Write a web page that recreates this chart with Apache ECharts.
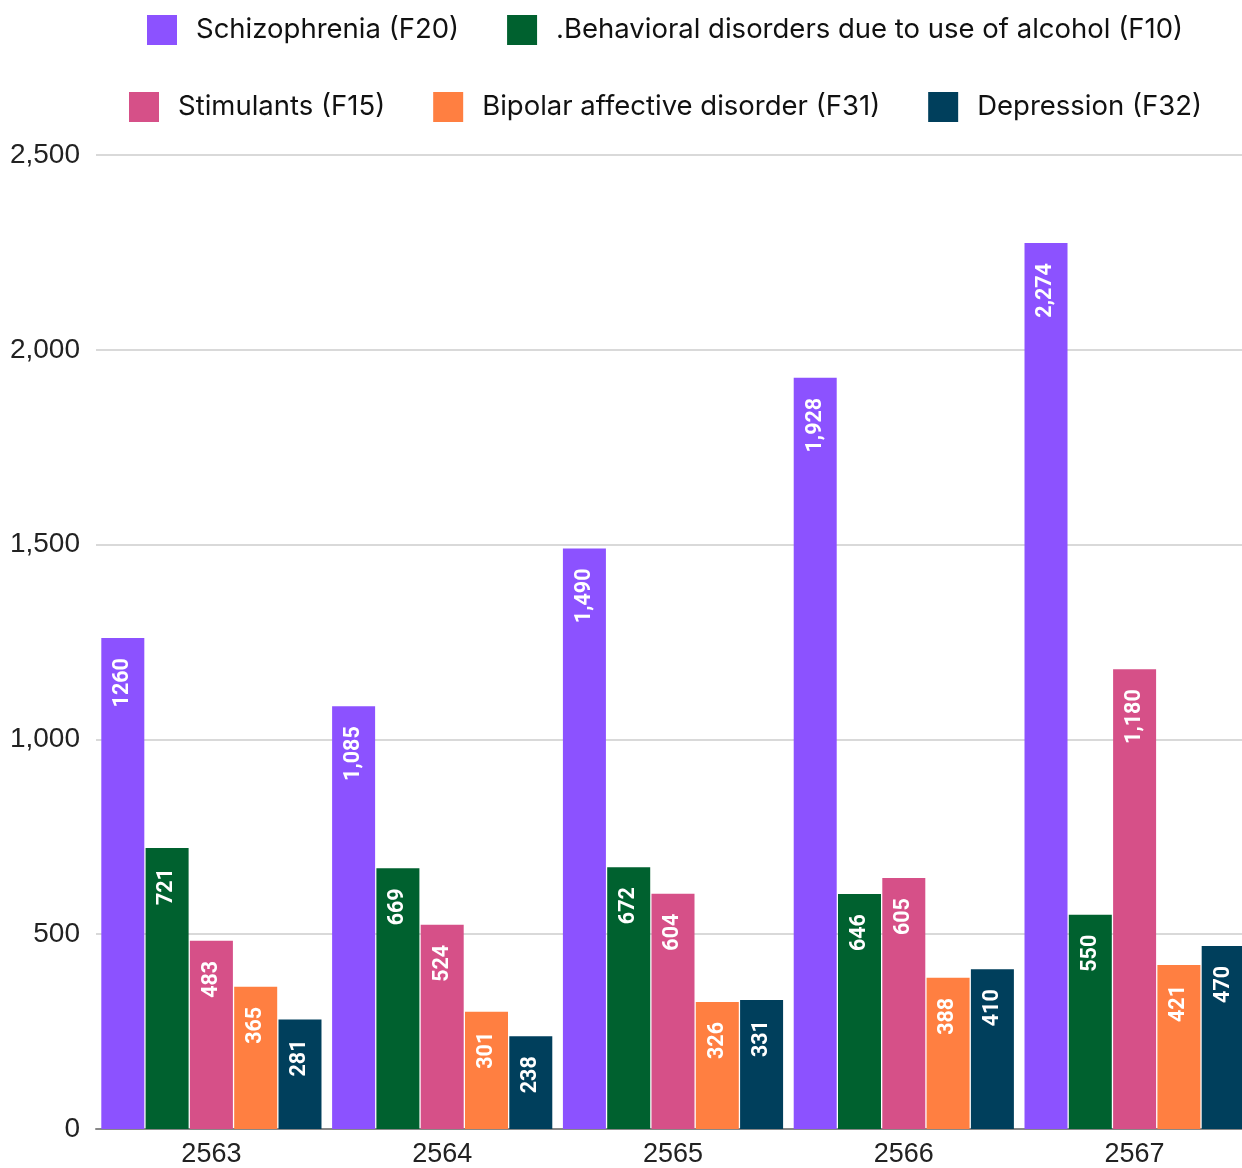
<!DOCTYPE html>
<html>
<head>
<meta charset="utf-8">
<script src="https://cdn.jsdelivr.net/npm/echarts@6/dist/echarts.min.js"></script>
<style>
  html, body { margin: 0; padding: 0; background: #fff; overflow: hidden; }
  #chart { width: 1250px; height: 1168px; }
</style>
</head>
<body>
<div id="chart"></div>
<script>
const years = ['2563', '2564', '2565', '2566', '2567'];
const seriesNames = [
  'Schizophrenia (F20)',
  '.Behavioral disorders due to use of alcohol (F10)',
  'Stimulants (F15)',
  'Bipolar affective disorder (F31)',
  'Depression (F32)'
];
const colors = ['#8c52ff', '#00612f', '#d65088', '#ff7f41', '#003f5c'];

// bar heights as drawn
const schizophrenia = [1260, 1085, 1490, 1928, 2274];
const alcohol = [721, 669, 672, 603, 550];
const stimulants = [483, 524, 604, 644, 1180];
const bipolar = [365, 301, 326, 388, 421];
const depression = [281, 238, 331, 410, 470];

// label texts as printed on the bars
const schizophreniaLabels = ['1260', '1,085', '1,490', '1,928', '2,274'];
const alcoholLabels = ['721', '669', '672', '646', '550'];
const stimulantsLabels = ['483', '524', '604', '605', '1,180'];
const bipolarLabels = ['365', '301', '326', '388', '421'];
const depressionLabels = ['281', '238', '331', '410', '470'];

const yTicks = [0, 500, 1000, 1500, 2000, 2500];

const values = [schizophrenia, alcohol, stimulants, bipolar, depression];
const labels = [schizophreniaLabels, alcoholLabels, stimulantsLabels, bipolarLabels, depressionLabels];

// the last group runs past the right edge, so the chart is a bit wider than the window
const chart = echarts.init(document.getElementById('chart'));

const legendBase = {
  icon: 'rect',
  itemWidth: 30,
  itemHeight: 30,
  itemGap: 48,
  textStyle: { fontFamily: 'Inter', fontSize: 27.5, color: '#111', padding: [0, 0, 0, 14] }
};

chart.setOption({
  animation: false,
  color: colors,
  legend: [
    Object.assign({}, legendBase, { left: 142, top: 10, data: seriesNames.slice(0, 2) }),
    Object.assign({}, legendBase, { left: 124, top: 87, data: seriesNames.slice(2) })
  ],
  grid: { left: 96, top: 155, bottom: 38, right: 0, containLabel: false },
  xAxis: {
    type: 'category',
    data: years,
    axisTick: { show: false },
    axisLine: { lineStyle: { color: '#888', width: 2 } },
    axisLabel: { fontFamily: 'Liberation Sans', fontSize: 27, color: '#222', margin: 12 }
  },
  yAxis: {
    type: 'value',
    min: 0,
    max: yTicks[yTicks.length - 1],
    interval: 500,
    axisLine: { show: false },
    axisTick: { show: false },
    splitLine: { lineStyle: { color: '#cccccc', width: 1.5 } },
    axisLabel: {
      fontFamily: 'Liberation Sans', fontSize: 28, color: '#222', margin: 16,
      formatter: v => v.toLocaleString('en-US')
    }
  },
  series: values.map((arr, si) => ({
    name: seriesNames[si],
    type: 'bar',
    data: arr,
    barCategoryGap: '4.6%',
    barGap: '3%',
    label: {
      show: true,
      position: 'insideTop',
      rotate: 90,
      align: 'right',
      verticalAlign: 'middle',
      distance: 20,
      color: '#fff',
      fontFamily: 'Roboto',
      fontWeight: 'bold',
      fontSize: 21.5,
      formatter: p => labels[si][p.dataIndex]
    }
  }))
});
</script>
</body>
</html>
